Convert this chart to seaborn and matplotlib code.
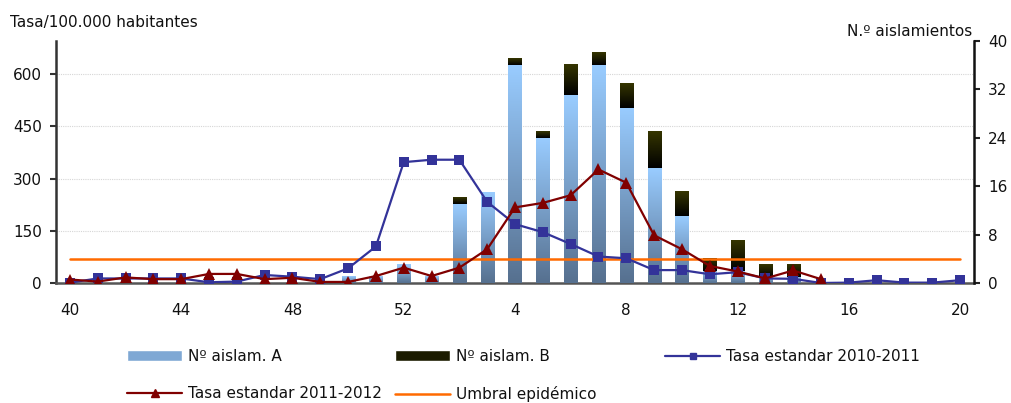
import numpy as np
import pandas as pd
import seaborn as sns
import matplotlib.pyplot as plt
from matplotlib.colors import LinearSegmentedColormap
from matplotlib.patches import Patch
from matplotlib.lines import Line2D

# Semanas 40-52 de un año y 1-20 del siguiente
weeks = [str(w) for w in range(40, 53)] + [str(w) for w in range(1, 21)]

# N.º de aislamientos (eje derecho)
aislam_a = [0, 0, 0, 0, 0, 0, 0, 0, 0, 0, 1, 1, 3, 1, 13, 15, 36, 24, 31, 36,
            29, 19, 11, 2, 2, 1, 1, 0, 0, 0, 0, 0, 0]
aislam_b = [0, 0, 0, 0, 0, 0, 0, 0, 0, 0, 0, 0, 0, 0, 1, 0, 1, 1, 5, 2,
            4, 6, 4, 2, 5, 2, 2, 0, 0, 0, 0, 0, 0]

# Tasas por 100.000 habitantes (eje izquierdo)
tasa_2010 = [1, 13, 13, 13, 13, 2, 4, 23, 18, 11, 42, 105, 347, 354, 354, 233,
             169, 146, 112, 76, 71, 37, 37, 25, 31, 13, 12, 0, 1, 8, 1, 1, 8]
tasa_2011 = [10, 4, 16, 11, 11, 26, 26, 11, 15, 3, 3, 20, 44, 20, 44, 97,
             217, 230, 252, 326, 288, 137, 97, 49, 33, 13, 36, 11,
             np.nan, np.nan, np.nan, np.nan, np.nan]
umbral = 68

df = pd.DataFrame({"semana": weeks, "a": aislam_a, "b": aislam_b,
                   "t2010": tasa_2010, "t2011": tasa_2011})
df["pos"] = np.arange(len(df))
df["total"] = df["a"] + df["b"]
df["umbral"] = umbral

sns.set_theme(style="white")
plt.rcParams["font.family"] = ["DejaVu Sans"]
plt.rcParams["font.size"] = 10.5
plt.rcParams["text.color"] = "#111111"
plt.rcParams["xtick.color"] = "#111111"
plt.rcParams["ytick.color"] = "#111111"

fig = plt.figure(figsize=(10.11, 4.03), dpi=100)
ax = fig.add_axes([0.0554, 0.2978, 0.908, 0.6005])
ax2 = ax.twinx()
ax3 = ax.twinx()

# barras apiladas: total (B) y encima A
sns.barplot(data=df, x="pos", y="total", color="#262600", width=0.47,
            ax=ax2, saturation=1)
sns.barplot(data=df, x="pos", y="a", color="#7fa8d4", width=0.47,
            ax=ax2, saturation=1)

# degradados como en la hoja de cálculo
cmap_a = LinearSegmentedColormap.from_list("a", ["#56708f", "#99ccff"])
cmap_b = LinearSegmentedColormap.from_list("b", ["#000000", "#363600"])
grad = np.linspace(0, 1, 128).reshape(-1, 1)
for pt, pa in zip(ax2.containers[0], ax2.containers[1]):
    x0, w = pa.get_x(), pa.get_width()
    ha, ht = pa.get_height(), pt.get_height()
    if ha > 0:
        ax2.imshow(grad, extent=(x0, x0 + w, 0, ha), origin="lower",
                   aspect="auto", cmap=cmap_a, zorder=3)
    if ht > ha:
        ax2.imshow(grad, extent=(x0, x0 + w, ha, ht), origin="lower",
                   aspect="auto", cmap=cmap_b, zorder=3)
    pt.set_visible(False)
    pa.set_visible(False)

# líneas de tasas
sns.lineplot(data=df, x="pos", y="umbral", color="#ff6a00", linewidth=1.8,
             ax=ax3)
sns.lineplot(data=df, x="pos", y="t2010", color="#333399", linewidth=1.6,
             marker="s", markersize=6.5, markeredgewidth=0, ax=ax3)
sns.lineplot(data=df, x="pos", y="t2011", color="#800000", linewidth=1.6,
             marker="^", markersize=8, markeredgewidth=0, ax=ax3)

for a in (ax, ax2, ax3):
    a.set_xlim(-0.5, len(df) - 0.5)
    a.set_xlabel("")
    a.set_ylabel("")
ax.set_ylim(0, 695)
ax3.set_ylim(0, 695)
ax2.set_ylim(0, 40)

ax.set_yticks([0, 150, 300, 450, 600])
ax2.set_yticks([0, 8, 16, 24, 32, 40])
ax3.set_yticks([])
ax3.axis("off")

ax.set_xticks(df["pos"][::4], df["semana"][::4])
ax.set_xticks(np.arange(-0.5, len(df), 1), minor=True)
ax.tick_params(axis="x", which="major", length=0, pad=14.5, labelsize=11)
ax.tick_params(axis="x", which="minor", length=4, width=1.5,
               color="#404040", direction="out")
ax.tick_params(axis="y", length=4, width=1.5, color="#333333",
               direction="out", pad=6, labelsize=11, left=True)
ax2.tick_params(axis="y", length=4, width=1.5, color="#222222",
                direction="out", pad=6, labelsize=11, right=True)

ax.yaxis.grid(True, color="#d6d6d6", linestyle=(0, (1, 1)), linewidth=0.8)
ax.set_axisbelow(True)

for a in (ax, ax2):
    for s in a.spines.values():
        s.set_visible(False)
ax.spines["left"].set_visible(True)
ax.spines["bottom"].set_visible(True)
ax2.spines["right"].set_visible(True)
ax.spines["left"].set_color("#333333")
ax.spines["left"].set_linewidth(1.8)
ax.spines["bottom"].set_color("#555555")
ax.spines["bottom"].set_linewidth(1.8)
ax2.spines["right"].set_color("#111111")
ax2.spines["right"].set_linewidth(1.8)

fig.text(10 / 1011, 1 - 22 / 403, "Tasa/100.000 habitantes", ha="left",
         va="center", fontsize=11)
fig.text(972 / 1011, 1 - 31 / 403, "N.º aislamientos", ha="right",
         va="center", fontsize=11)

# leyenda en tres columnas
h_a = Patch(facecolor="#7fa8d4", label="Nº aislam. A")
h_b = Patch(facecolor="#1c1c00", label="Nº aislam. B")
h_t10 = Line2D([], [], color="#333399", lw=1.6, marker="s", ms=5,
               label="Tasa estandar 2010-2011")
h_t11 = Line2D([], [], color="#800000", lw=1.6, marker="^", ms=6,
               label="Tasa estandar 2011-2012")
h_um = Line2D([], [], color="#ff6a00", lw=1.8, label="Umbral epidémico")

leg_kw = dict(loc="upper left", frameon=False, fontsize=11, borderpad=0,
              borderaxespad=0, handlelength=3.6, handletextpad=0.4,
              labelspacing=1.45)
for handles, x in (([h_a, h_t11], 127), ([h_b, h_um], 395), ([h_t10], 665)):
    fig.legend(handles=handles, bbox_to_anchor=(x / 1011, 1 - 349 / 403),
               **leg_kw)

fig.savefig("out.png", dpi=100)
